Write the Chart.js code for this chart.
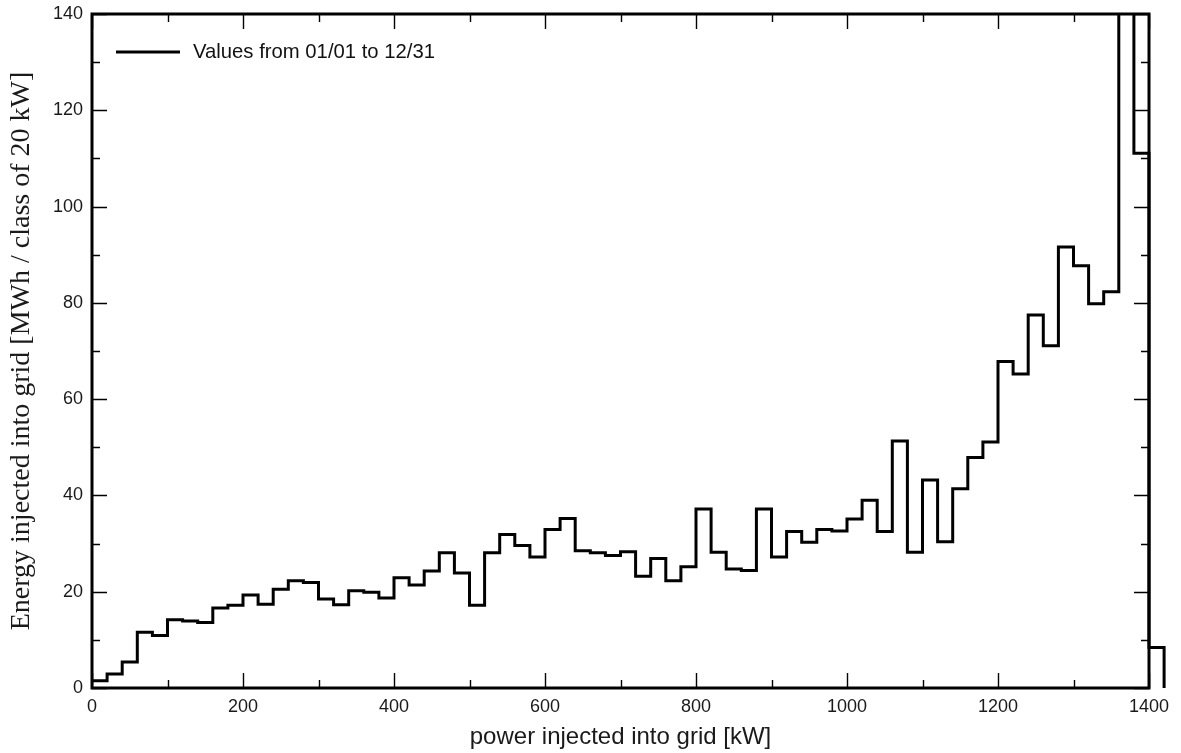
<!DOCTYPE html>
<html>
<head>
<meta charset="utf-8">
<script src="https://cdn.jsdelivr.net/npm/chart.js@4/dist/chart.umd.min.js"></script>
<style>
  html, body { margin: 0; padding: 0; background: #ffffff; }
  #wrap { width: 1181px; height: 753px; }
</style>
</head>
<body>
<div id="wrap"><canvas id="histo" width="1181" height="753"></canvas></div>
<script>
// Energy fed into the grid per 20 kW power class [MWh]
const CLASS_WIDTH_KW = 20;
const energyMWh = [
  1.5, 2.9, 5.4, 11.6, 10.9, 14.2, 13.9, 13.6, 16.6, 17.2,
  19.3, 17.4, 20.5, 22.3, 21.9, 18.5, 17.3, 20.2, 19.9, 18.7,
  22.9, 21.4, 24.3, 28.1, 23.9, 17.2, 28.1, 31.9, 29.6, 27.2,
  32.9, 35.2, 28.5, 28.1, 27.5, 28.3, 23.2, 26.9, 22.3, 25.2,
  37.2, 28.2, 24.7, 24.4, 37.2, 27.2, 32.5, 30.3, 32.9, 32.6,
  35.1, 39.0, 32.5, 51.3, 28.2, 43.2, 30.4, 41.4, 47.9, 51.1,
  67.8, 65.2, 77.5, 71.1, 91.6, 87.7, 79.8, 82.3, 152, 111.1,
  8.4
];
// upper edge of each power class [kW]
const classUpperKW = energyMWh.map((_, i) => (i + 1) * CLASS_WIDTH_KW);

const xTickValues = [0, 200, 400, 600, 800, 1000, 1200, 1400];
const yTickValues = [0, 20, 40, 60, 80, 100, 120, 140];
const xMinorStep = 100;
const yMinorStep = 10;

const seriesLabel = 'Values from 01/01 to 12/31';
const xTitle = 'power injected into grid [kW]';
const yTitle = 'Energy injected into grid [MWh / class of 20 kW]';

// step outline: start on the axis, each class level runs up to its upper edge,
// then the outline closes down to zero after the last class
const stepPoints = [{ x: 0, y: energyMWh[0] }];
classUpperKW.forEach((x, i) => stepPoints.push({ x: x, y: energyMWh[i + 1] !== undefined ? energyMWh[i + 1] : 0 }));

const SANS = '"Liberation Sans", Arial, sans-serif';
const SERIF = '"Liberation Serif", "Times New Roman", serif';

// frame, inward ticks on all four sides, and the legend inside the plot
const framePlugin = {
  id: 'frameTicks',
  afterDraw(chart) {
    const { ctx, chartArea: a } = chart;
    const xs = chart.scales.x, ys = chart.scales.y;
    const MAJ = 15, MIN = 8;
    ctx.save();
    ctx.strokeStyle = '#000';
    ctx.lineWidth = 1.4;
    ctx.beginPath();
    for (let v = xs.min; v <= xs.max + 1e-9; v += xMinorStep) {
      const px = Math.round(xs.getPixelForValue(v)) + 0.5;
      const len = xTickValues.includes(v) ? MAJ : MIN;
      ctx.moveTo(px, a.bottom); ctx.lineTo(px, a.bottom - len);
      ctx.moveTo(px, a.top); ctx.lineTo(px, a.top + len);
    }
    for (let v = ys.min; v <= ys.max + 1e-9; v += yMinorStep) {
      const py = Math.round(ys.getPixelForValue(v)) + 0.5;
      const len = yTickValues.includes(v) ? MAJ : MIN;
      ctx.moveTo(a.left, py); ctx.lineTo(a.left + len, py);
      ctx.moveTo(a.right, py); ctx.lineTo(a.right - len, py);
    }
    ctx.stroke();

    ctx.lineWidth = 3;
    ctx.strokeRect(a.left, a.top, a.right - a.left, a.bottom - a.top);

    // legend entry
    const ds = chart.data.datasets[0];
    const ly = a.top + 38;
    ctx.lineWidth = 3;
    ctx.beginPath();
    ctx.moveTo(a.left + 24, ly);
    ctx.lineTo(a.left + 88, ly);
    ctx.stroke();
    ctx.fillStyle = '#111';
    ctx.font = '20.3px ' + SANS;
    ctx.textBaseline = 'middle';
    ctx.textAlign = 'left';
    ctx.fillText(ds.label, a.left + 101, ly);
    ctx.restore();
  }
};

new Chart(document.getElementById('histo'), {
  type: 'line',
  data: {
    datasets: [{
      label: seriesLabel,
      data: stepPoints,
      stepped: 'before',
      borderColor: '#000',
      borderWidth: 3,
      borderJoinStyle: 'miter',
      borderCapStyle: 'butt',
      pointRadius: 0,
      fill: false,
      clip: { left: 2, top: 0, right: false, bottom: 2 }
    }]
  },
  options: {
    responsive: false,
    animation: false,
    devicePixelRatio: 1,
    layout: { padding: { left: 0, top: 14, right: 32, bottom: 0 } },
    plugins: {
      legend: { display: false },
      tooltip: { enabled: false }
    },
    scales: {
      x: {
        type: 'linear',
        min: 0,
        afterDataLimits: (s) => { s.max = xTickValues[xTickValues.length - 1]; },
        afterBuildTicks: (s) => { s.ticks = xTickValues.map(v => ({ value: v })); },
        afterFit: (s) => { s.height = 65; s.paddingLeft = 0; s.paddingRight = 0; },
        grid: { display: false, drawTicks: false },
        border: { display: false },
        ticks: {
          padding: 8,
          color: '#1a1a1a',
          font: { family: SANS, size: 18 },
          maxRotation: 0,
          autoSkip: false,
          callback: (v) => String(v)
        },
        title: {
          display: true,
          text: xTitle,
          color: '#1a1a1a',
          font: { family: SANS, size: 24 },
          padding: { top: 0, bottom: 1 }
        }
      },
      y: {
        min: 0,
        max: 140,
        afterBuildTicks: (s) => { s.ticks = yTickValues.map(v => ({ value: v })); },
        afterFit: (s) => { s.width = 92; s.paddingTop = 0; s.paddingBottom = 0; },
        grid: { display: false, drawTicks: false },
        border: { display: false },
        ticks: {
          padding: 9,
          color: '#1a1a1a',
          font: { family: SANS, size: 18 },
          callback: (v) => String(v)
        },
        title: {
          display: true,
          text: yTitle,
          color: '#1a1a1a',
          font: { family: SERIF, size: 28 },
          padding: { top: 5, bottom: 0 }
        }
      }
    }
  },
  plugins: [framePlugin]
});
</script>
</body>
</html>
